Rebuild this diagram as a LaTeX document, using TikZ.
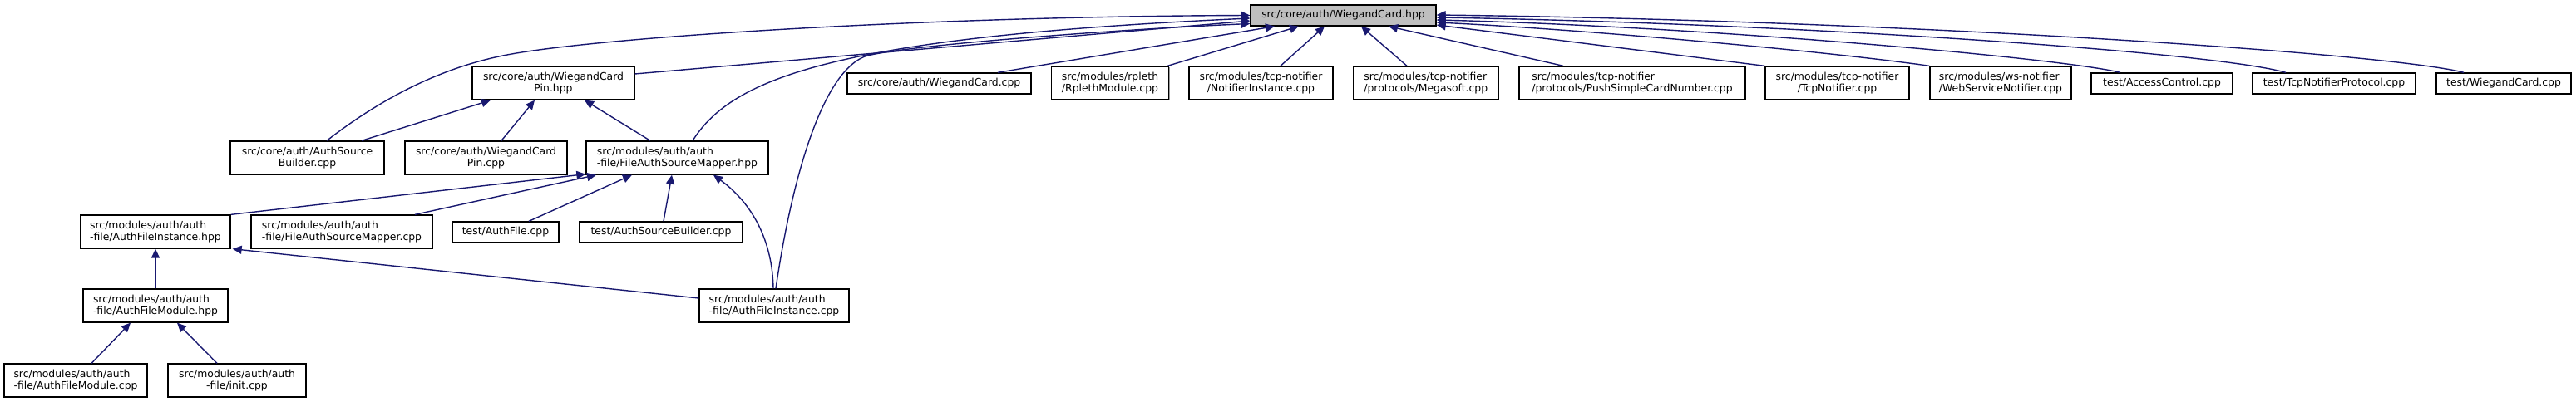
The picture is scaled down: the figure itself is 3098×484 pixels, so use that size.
\documentclass[tikz,border=0pt]{standalone}
\usepackage{fontspec}
\setmainfont{DejaVu Sans}
\usetikzlibrary{arrows.meta,shadows}
\definecolor{edgeblue}{RGB}{25,25,112}
\definecolor{rootgray}{RGB}{191,191,191}
\tikzset{
  dbox/.style={draw=black, line width=1.3pt, fill=white, inner sep=0pt,
    font=\fontsize{12.4}{14.3}\selectfont,
    drop shadow={shadow xshift=1.4pt, shadow yshift=-1.4pt, fill=black!40, opacity=1}},
  twoline/.style={minimum height=40pt},
  oneline/.style={minimum height=25pt},
  lft/.style={align=left},
  ctr/.style={align=center},
  conn/.style={draw=edgeblue, line width=1.4pt, -{Triangle[length=11pt,width=10pt]}},
}
\begin{document}
\begin{tikzpicture}[x=1pt,y=-1pt]
\useasboundingbox[fill=white] (0,0) rectangle (3098,484);
% row 0
\node[dbox, oneline, fill=rootgray, minimum width=223pt] (root) at (1615.5,18.5) {src/core/auth/WiegandCard.hpp};
% row 1
\node[dbox, twoline, ctr, minimum width=195pt] (pinh) at (665.5,100) {src/core/auth/WiegandCard\\Pin.hpp};
\node[dbox, oneline, minimum width=221pt] (wcc) at (1129.5,100.5) {src/core/auth/WiegandCard.cpp};
\node[dbox, twoline, ctr, minimum width=141pt] (rpleth) at (1335,100) {src/modules/rpleth\\/RplethModule.cpp};
\node[dbox, twoline, ctr, minimum width=173pt] (notif) at (1516.5,100) {src/modules/tcp-notifier\\/NotifierInstance.cpp};
\node[dbox, twoline, lft, minimum width=174.5pt] (mega) at (1714.75,100) {src/modules/tcp-notifier\\/protocols/Megasoft.cpp};
\node[dbox, twoline, lft, minimum width=272pt] (push) at (1963,100) {src/modules/tcp-notifier\\/protocols/PushSimpleCardNumber.cpp};
\node[dbox, twoline, ctr, minimum width=173pt] (tcpn) at (2209.5,100) {src/modules/tcp-notifier\\/TcpNotifier.cpp};
\node[dbox, twoline, lft, minimum width=170pt] (ws) at (2406,100) {src/modules/ws-notifier\\/WebServiceNotifier.cpp};
\node[dbox, oneline, minimum width=170pt] (acc) at (2600,100.5) {test/AccessControl.cpp};
\node[dbox, oneline, minimum width=196pt] (tcpp) at (2807,100.5) {test/TcpNotifierProtocol.cpp};
\node[dbox, oneline, minimum width=162pt] (twc) at (3011,100.5) {test/WiegandCard.cpp};
% row 2
\node[dbox, twoline, ctr, minimum width=185pt] (asb) at (369.5,190) {src/core/auth/AuthSource\\Builder.cpp};
\node[dbox, twoline, ctr, minimum width=195pt] (pinc) at (584.5,190) {src/core/auth/WiegandCard\\Pin.cpp};
\node[dbox, twoline, lft, minimum width=219pt] (fasmh) at (814.5,190) {src/modules/auth/auth\\-file/FileAuthSourceMapper.hpp};
% row 3
\node[dbox, twoline, lft, minimum width=180pt] (afih) at (187,279) {src/modules/auth/auth\\-file/AuthFileInstance.hpp};
\node[dbox, twoline, lft, minimum width=218pt] (fasmc) at (411,279) {src/modules/auth/auth\\-file/FileAuthSourceMapper.cpp};
\node[dbox, oneline, minimum width=128pt] (taf) at (608,279.5) {test/AuthFile.cpp};
\node[dbox, oneline, minimum width=196pt] (tasb) at (795,279.5) {test/AuthSourceBuilder.cpp};
% row 4
\node[dbox, twoline, lft, minimum width=174pt] (afmh) at (187,368) {src/modules/auth/auth\\-file/AuthFileModule.hpp};
\node[dbox, twoline, lft, minimum width=180pt] (afic) at (931,368) {src/modules/auth/auth\\-file/AuthFileInstance.cpp};
% row 5
\node[dbox, twoline, lft, minimum width=172pt] (afmc) at (91,458) {src/modules/auth/auth\\-file/AuthFileModule.cpp};
\node[dbox, twoline, ctr, minimum width=166pt] (init) at (285,458) {src/modules/auth/auth\\-file/init.cpp};

% edges into root, left side
\draw[conn] ([xshift=23.5pt]asb.north) .. controls (450,125) and (520,85) .. (600,68)
   .. controls (700,46) and (1100,20) .. (root.west);
\draw[conn] ([xshift=18.5pt]fasmh.north) .. controls (880,95) and (1000,45) .. ([yshift=-3.5pt]root.west);
\draw[conn] ([yshift=11pt]pinh.east) -- ([yshift=-6.5pt]root.west);
\draw[conn] ([xshift=2pt]afic.north) .. controls (950,230) and (985,90) .. (1040,68)
   .. controls (1080,55) and (1350,35) .. ([yshift=-10pt]root.west);
% edges into root, bottom
\draw[conn] ([xshift=70.5pt]wcc.north) -- ([xshift=-82.5pt]root.south);
\draw[conn] ([xshift=-2pt]rpleth.north east) -- ([xshift=-53.5pt]root.south);
\draw[conn] ([xshift=23.5pt]notif.north) -- ([xshift=-22.5pt]root.south);
\draw[conn] ([xshift=-22.75pt]mega.north) -- ([xshift=21.5pt]root.south);
\draw[conn] ([xshift=-83pt]push.north) -- ([xshift=54.5pt]root.south);
% edges into root, right side
\draw[conn] (tcpn.north west) -- ([yshift=-11.5pt]root.east);
\draw[conn] (ws.north west) .. controls (2200,62) and (1900,35) .. ([yshift=-8.5pt]root.east);
\draw[conn] ([xshift=-50pt]acc.north) .. controls (2480,70) and (2050,32) .. ([yshift=-5.5pt]root.east);
\draw[conn] ([xshift=-58pt]tcpp.north) .. controls (2660,62) and (2150,28) .. ([yshift=-2.5pt]root.east);
\draw[conn] ([xshift=-48pt]twc.north) .. controls (2880,65) and (2300,25) .. ([yshift=0.5pt]root.east);
% edges into WiegandCardPin.hpp
\draw[conn] ([xshift=65.5pt]asb.north) -- ([xshift=-75.5pt]pinh.south);
\draw[conn] ([xshift=18.5pt]pinc.north) -- ([xshift=-22.5pt]pinh.south);
\draw[conn] ([xshift=-32.5pt]fasmh.north) -- ([xshift=37.5pt]pinh.south);
% edges into FileAuthSourceMapper.hpp
\draw[conn] (afih.north east) -- ([yshift=1pt]fasmh.south west);
\draw[conn] ([xshift=88pt]fasmc.north) -- ([xshift=-97.5pt]fasmh.south);
\draw[conn] ([xshift=28pt]taf.north) -- ([xshift=-54.5pt]fasmh.south);
\draw[conn] ([xshift=3pt]tasb.north) -- ([xshift=-6.5pt]fasmh.south);
\draw[conn] ([xshift=-1pt]afic.north) .. controls (929,290) and (905,245) .. ([xshift=43.5pt]fasmh.south);
% edges into AuthFileInstance.hpp
\draw[conn] (afmh.north) -- (afih.south);
\draw[conn] ([yshift=9pt]afic.west) -- ([xshift=2pt]afih.south east);
% edges into AuthFileModule.hpp
\draw[conn] ([xshift=19pt]afmc.north) -- ([xshift=-30pt]afmh.south);
\draw[conn] ([xshift=-24pt]init.north) -- ([xshift=26pt]afmh.south);
\end{tikzpicture}
\end{document}
